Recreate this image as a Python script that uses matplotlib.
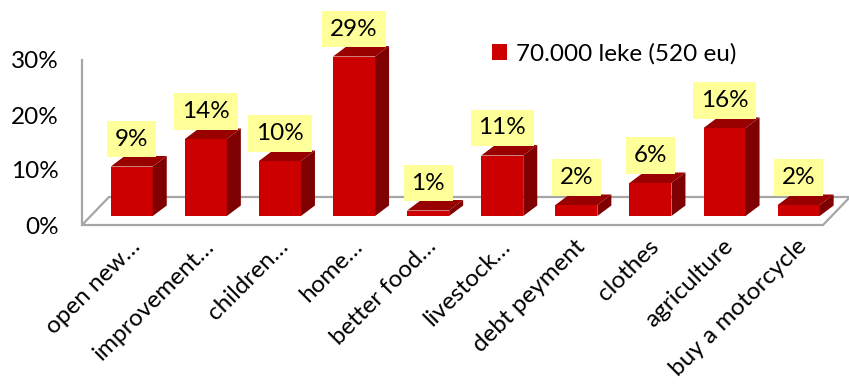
import matplotlib
matplotlib.use('Agg')
import matplotlib.pyplot as plt
from matplotlib.patches import Polygon, Patch
from matplotlib.transforms import offset_copy, ScaledTranslation

categories = ['open new…', 'improvement…', 'children…', 'home…', 'better food…',
              'livestock…', 'debt peyment', 'clothes', 'agriculture', 'buy a motorcycle']
shares = [9, 14, 10, 29, 1, 11, 2, 6, 16, 2]
yticks = [0, 10, 20, 30]
series_name = '70.000 leke (520 eu)'

plt.rcParams['font.family'] = ['Lato', 'DejaVu Sans']

FRONT = '#CC0000'
TOP = '#990000'
SIDE = '#7F0000'
GRID = '#A6A6A6'
LABEL_BG = '#FFFF99'
FS = 17.5

W, H = 849, 390
fig = plt.figure(figsize=(W / 100, H / 100), dpi=100)
ax = fig.add_axes([82 / W, (H - 225) / H, 741 / W, 165 / H])
x0, x1 = -0.55, 9.45
ax.set_xlim(x0, x1)
ax.set_ylim(0, 30)

# pixels per data unit
p0 = ax.transData.transform((0, 0))
p1 = ax.transData.transform((1, 1))
ppx, ppy = p1[0] - p0[0], p1[1] - p0[1]

# floor of the 3-D plot area
fdx, fdy = 27 / ppx, 28 / ppy
floor = Polygon([(x0, 0), (x1, 0), (x1 + fdx, fdy), (x0 + fdx, fdy)],
                closed=True, facecolor='white', edgecolor=GRID, lw=1.6,
                clip_on=False, zorder=1)
ax.add_patch(floor)

# bars sit a little behind the front plane
front = offset_copy(ax.transData, fig=fig, x=9, y=9, units='dots')
bw = 42 / ppx
ddx, ddy = 14 / ppx, 10.5 / ppy
xs = list(range(len(categories)))
ax.bar(xs, shares, width=bw, color=FRONT, transform=front, zorder=3,
       clip_on=False, linewidth=0)
for x, v in zip(xs, shares):
    l, r = x - bw / 2, x + bw / 2
    ax.add_patch(Polygon([(l, v), (r, v), (r + ddx, v + ddy), (l + ddx, v + ddy)],
                         closed=True, facecolor=TOP, edgecolor='none',
                         transform=front, zorder=3, clip_on=False))
    ax.add_patch(Polygon([(r, 0), (r + ddx, ddy), (r + ddx, v + ddy), (r, v)],
                         closed=True, facecolor=SIDE, edgecolor='none',
                         transform=front, zorder=3, clip_on=False))
    ax.annotate(f'{v}%', xy=(x, v), xycoords=front, xytext=(0, 17),
                textcoords='offset pixels', ha='center', va='bottom',
                fontsize=FS, color='black', zorder=5,
                bbox=dict(boxstyle='square,pad=0.32', facecolor=LABEL_BG,
                          edgecolor='none'))

# axes styling
for side in ('top', 'right', 'bottom'):
    ax.spines[side].set_visible(False)
ax.spines['left'].set_color(GRID)
ax.spines['left'].set_linewidth(1.6)
ax.set_yticks(yticks, labels=[f'{t}%' for t in yticks])
ax.tick_params(axis='y', length=0, pad=17, labelsize=FS)
ax.set_xticks(xs, labels=categories)
ax.tick_params(axis='x', length=0, pad=13, labelsize=FS)
shift = ScaledTranslation(14 / 100, 0, fig.dpi_scale_trans)
for lbl in ax.get_xticklabels():
    lbl.set_rotation(45)
    lbl.set_ha('right')
    lbl.set_va('center')
    lbl.set_rotation_mode('anchor')
    lbl.set_transform(lbl.get_transform() + shift)
ax.patch.set_visible(False)

ax.legend(handles=[Patch(facecolor=FRONT, label=series_name)],
          loc='center left', bbox_to_anchor=(492 / W, 1 - 54 / H),
          bbox_transform=fig.transFigure, frameon=False, fontsize=FS,
          handlelength=0.6, handleheight=0.6, handletextpad=0.4,
          borderpad=0, borderaxespad=0)

fig.savefig('out.png', dpi=100)
